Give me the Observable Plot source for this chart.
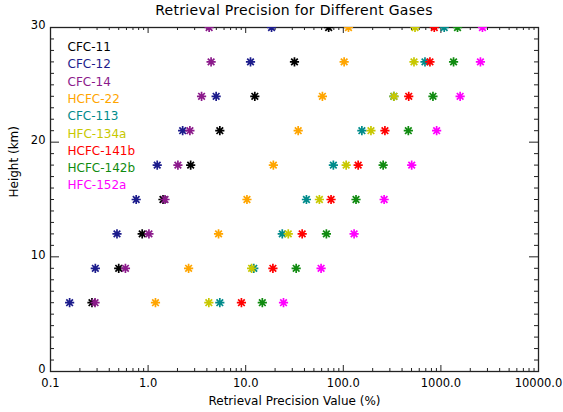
<!DOCTYPE html>
<html>
<head>
<meta charset="utf-8">
<script src="https://cdn.jsdelivr.net/npm/d3@7"></script>
<script src="https://cdn.jsdelivr.net/npm/@observablehq/plot@0.6"></script>
<style>
  html, body { margin: 0; padding: 0; background: #fff; }
  #wrap { width: 563px; height: 412px; position: relative; font-family: "DejaVu Sans", sans-serif; }
  #title { position: absolute; left: 50px; width: 488px; top: 0px; height: 20px; line-height: 20px; text-align: center; font-size: 14px; color: #000; letter-spacing: 0.3px; }
  #chart { position: absolute; left: 0; top: 20px; }
  #chart svg { overflow: visible; }
</style>
</head>
<body>
<div id="wrap">
  <div id="title">Retrieval Precision for Different Gases</div>
  <div id="chart"></div>
</div>
<script>
// ---- data ----
const heights = [6, 9, 12, 15, 18, 21, 24, 27, 30];
const gases = ["CFC-11", "CFC-12", "CFC-14", "HCFC-22", "CFC-113", "HFC-134a", "HCFC-141b", "HCFC-142b", "HFC-152a"];
const colors = ["#000000", "#1c1c8c", "#8b1a8b", "#ffa500", "#008b8b", "#c8c800", "#ff0000", "#108b10", "#ff00ff"];
const cfc11   = [0.266, 0.50, 0.87, 1.42, 2.73, 5.43, 12.4, 31.6, 70.8];
const cfc12   = [0.157, 0.288, 0.48, 0.755, 1.24, 2.26, 4.98, 11.2, 18.4];
const cfc14   = [0.286, 0.586, 1.02, 1.49, 2.02, 2.68, 3.53, 4.42, 4.22];
const hcfc22  = [1.19, 2.60, 5.27, 10.3, 19.2, 34.5, 61.1, 102, 113];
const cfc113  = [5.43, 12.1, 23.7, 41.9, 79.1, 155, 329, 687, 1081];
const hfc134a = [4.19, 11.5, 27.3, 56.9, 107, 192, 331, 530, 543];
const hcfc141b= [9.04, 19.0, 37.9, 74.9, 142, 267, 468, 772, 855];
const hcfc142b= [14.8, 32.9, 67.1, 135, 256, 464, 829, 1348, 1480];
const hfc152a = [24.4, 59.2, 129, 262, 502, 904, 1574, 2541, 2665];
const series = [cfc11, cfc12, cfc14, hcfc22, cfc113, hfc134a, hcfc141b, hcfc142b, hfc152a];
const xTickLabels = ["0.1", "1.0", "10.0", "100.0", "1000.0", "10000.0"];
const xMajor = [0.1, 1, 10, 100, 1000, 10000];
const yMajor = [0, 10, 20, 30];

// ---- build table ----
const rows = [];
gases.forEach((g, i) => heights.forEach((h, j) => rows.push({gas: g, height: h, value: series[i][j]})));

const xMinor = [];
for (const d of [0.1, 1, 10, 100, 1000]) for (let k = 2; k <= 9; k++) xMinor.push(d * k);
const yMinor = d3.range(0, 31).filter(v => v % 10 !== 0);

const W = 563, H = 392, ML = 50, MR = 25, MT = 7, MB = 41;
const FW = W - ML - MR, FH = H - MT - MB;

const star = {
  draw(ctx, size) {
    const r = Math.sqrt(size / Math.PI);
    const d = r * 0.72;
    ctx.moveTo(-r, 0); ctx.lineTo(r, 0);
    ctx.moveTo(0, -r); ctx.lineTo(0, r);
    ctx.moveTo(-d, -d); ctx.lineTo(d, d);
    ctx.moveTo(-d, d); ctx.lineTo(d, -d);
  }
};

const axisColor = "#222";
const legendMarks = gases.map((g, i) => Plot.text([g], {
  frameAnchor: "top-left", dx: 17, dy: 15 + i * 17.3, text: d => d,
  textAnchor: "start", fill: colors[i], fontSize: 12, letterSpacing: 0.5
}));

const plot = Plot.plot({
  width: W, height: H,
  marginLeft: ML, marginRight: MR, marginTop: MT, marginBottom: MB,
  style: {fontFamily: "DejaVu Sans, sans-serif", background: "white", overflow: "visible"},
  x: {type: "log", domain: [0.1, 10000], axis: null},
  y: {domain: [0, 30], axis: null},
  color: {domain: gases, range: colors},
  marks: [
    Plot.tickX(xMinor, {x: d => d, insetTop: FH - 3, stroke: axisColor}),
    Plot.tickX(xMinor, {x: d => d, insetBottom: FH - 3, stroke: axisColor}),
    Plot.tickX(xMajor, {x: d => d, insetTop: FH - 6, stroke: axisColor}),
    Plot.tickX(xMajor, {x: d => d, insetBottom: FH - 6, stroke: axisColor}),
    Plot.tickY(yMinor, {y: d => d, insetRight: FW - 4, stroke: axisColor}),
    Plot.tickY(yMinor, {y: d => d, insetLeft: FW - 4, stroke: axisColor}),
    Plot.tickY(yMajor, {y: d => d, insetRight: FW - 9, stroke: axisColor}),
    Plot.tickY(yMajor, {y: d => d, insetLeft: FW - 9, stroke: axisColor}),
    Plot.frame({stroke: axisColor, strokeWidth: 1.3}),
    Plot.text(xMajor, {x: d => d, frameAnchor: "bottom", dy: 15, text: (d, i) => xTickLabels[i], fontSize: 11.5, fill: "#000", letterSpacing: 0.3}),
    Plot.text(yMajor, {y: d => d, frameAnchor: "left", dx: -5, dy: -2, textAnchor: "end", text: d => String(d), fontSize: 11.5, fill: "#000", letterSpacing: 0.3}),
    Plot.text(["Retrieval Precision Value (%)"], {frameAnchor: "bottom", dy: 33, text: d => d, fontSize: 12, fill: "#000", letterSpacing: 0.2}),
    Plot.text(["Height (km)"], {frameAnchor: "left", dx: -36, dy: -2, rotate: -90, text: d => d, fontSize: 12, fill: "#000", letterSpacing: 0.2}),
    ...legendMarks,
    Plot.dot(rows, {x: "value", y: "height", stroke: "gas", fill: "none", symbol: star, r: 4.6, strokeWidth: 1.7, clip: true})
  ]
});
document.getElementById("chart").appendChild(plot);
</script>
</body>
</html>
